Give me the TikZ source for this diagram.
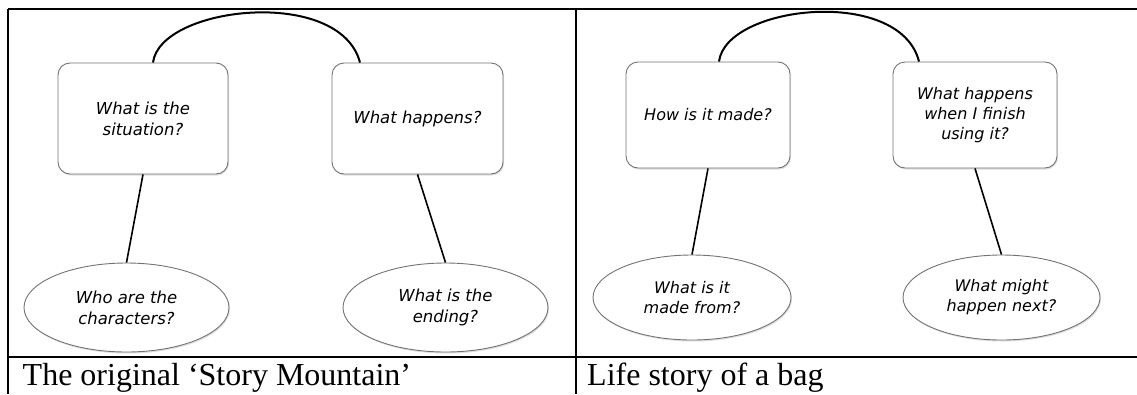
\documentclass[tikz,border=0pt]{standalone}
\usepackage{fontspec}
\setmainfont{Liberation Serif}
\newfontfamily\qfont{DejaVu Sans}
\usetikzlibrary{shapes.geometric,shadows}
\tikzset{
  qbox/.style={draw=black!55, line width=0.9pt, fill=white, rounded corners=12pt,
    drop shadow={opacity=0.25, shadow xshift=1pt, shadow yshift=-1.5pt},
    align=center, inner sep=0pt, font=\qfont\itshape\fontsize{16.5}{21}\selectfont},
  qell/.style={draw=black!55, line width=0.9pt, fill=white, ellipse,
    drop shadow={opacity=0.25, shadow xshift=1pt, shadow yshift=-1.5pt},
    align=center, inner sep=0pt, font=\qfont\itshape\fontsize{16.5}{21}\selectfont},
  qsmall/.style={font=\qfont\itshape\fontsize{16}{20}\selectfont},
  qlink/.style={draw=black, line width=1.6pt},
  qarch/.style={draw=black, line width=2pt},
  qrule/.style={draw=black, line width=2pt},
  captext/.style={anchor=base west, inner sep=0pt, font=\fontsize{32}{36}\selectfont}
}
\begin{document}
\begin{tikzpicture}[x=1pt,y=-1pt]
\useasboundingbox (0,0) rectangle (1137,394);
% table rules
\draw[qrule] (8,9) -- (1137,9);
\draw[qrule] (8,9) -- (8,394);
\draw[qrule] (576,9) -- (576,394);
\draw[qrule] (8,357) -- (1137,357);
% left panel
\node[qbox, minimum width=170pt, minimum height=111pt] (b1) at (143,118.5) {What is the\\situation?};
\node[qbox, minimum width=171pt, minimum height=111pt] (b2) at (417.5,118.5) {What happens?};
\node[qell, minimum width=205pt, minimum height=89pt] (e1) at (126.5,307.5) {Who are the\\characters?};
\node[qell, minimum width=205pt, minimum height=89pt] (e2) at (445.5,307.5) {What is the\\ending?};
\draw[qlink] (b1.south) -- (e1.north);
\draw[qlink] (b2.south) -- (e2.north);
\draw[qarch] ([xshift=10pt]b1.north) .. controls (160,6) and (340,-14) .. ([xshift=-57.5pt]b2.north);
% right panel
\node[qbox, qsmall, minimum width=164pt, minimum height=106pt] (b3) at (708,115) {How is it made?};
\node[qbox, qsmall, minimum width=164pt, minimum height=106pt] (b4) at (975,115) {What happens\\when I finish\\using it?};
\node[qell, qsmall, minimum width=198pt, minimum height=85pt] (e3) at (692,297.5) {What is it\\made from?};
\node[qell, qsmall, minimum width=197pt, minimum height=85pt] (e4) at (1001.5,297.5) {What might\\happen next?};
\draw[qlink] (b3.south) -- (e3.north);
\draw[qlink] (b4.south) -- (e4.north);
\draw[qarch] ([xshift=11pt]b3.north) .. controls (726,5) and (900,-14) .. ([xshift=-56pt]b4.north);
% captions
\node[captext] (c1) at (22.5,385) {The original ‘Story Mountain’};
\node[captext] (c2) at (587,385) {Life story of a bag};
\end{tikzpicture}
\end{document}
